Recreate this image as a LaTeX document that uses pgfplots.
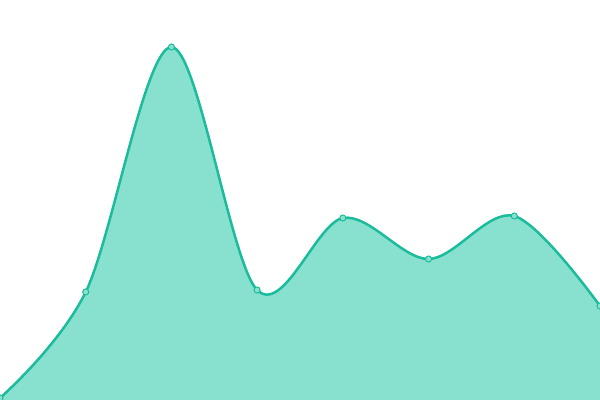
\documentclass[border=0pt]{standalone}
\usepackage{pgfplots}
\pgfplotsset{compat=1.18}
\definecolor{linec}{RGB}{26,188,156}
\definecolor{fillc}{RGB}{136,224,207}
\begin{document}
\begin{tikzpicture}
\useasboundingbox (0,0) rectangle (6in,4in);
\clip (0,0) rectangle (6in,4in);
\begin{axis}[
  at={(0,0)}, anchor=south west,
  width=6in, height=4in, scale only axis,
  hide axis, xmin=0, xmax=7, ymin=0, ymax=400,
  clip=true,
]
\addplot[draw=none, fill=fillc, smooth, tension=0.55] coordinates {
(0,2) (1,108) (2,353) (3,110) (4,182) (5,141) (6,184) (7,94)} \closedcycle;
\addplot[color=linec, line width=1.8pt, smooth, tension=0.55,
  mark=*, mark size=2.2pt, mark options={fill=fillc, draw=linec, line width=0.7pt}] coordinates {
(0,2) (1,108) (2,353) (3,110) (4,182) (5,141) (6,184) (7,94)};
\end{axis}
\end{tikzpicture}
\end{document}
